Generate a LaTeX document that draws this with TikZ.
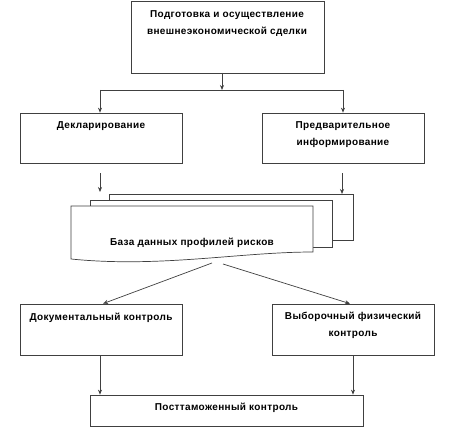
\documentclass[tikz,border=0pt]{standalone}
\usepackage{fontspec}
\setmainfont{Liberation Sans}[LetterSpace=3.5]
\usetikzlibrary{arrows.meta}
\begin{document}
\begin{tikzpicture}[x=1pt,y=-1pt,
 box/.style={draw=black!75, line width=0.7pt, fill=white, rectangle, inner sep=0pt},
 lbl/.style={font=\bfseries\fontsize{10}{17}\selectfont, align=center, inner sep=0pt},
 arr/.style={draw=black!75, line width=0.7pt, -{Stealth[length=5pt,width=4pt]}},
 ln/.style={draw=black!75, line width=0.7pt}]
\useasboundingbox[fill=white] (0,0) rectangle (474,436);

% boxes
\node[box, minimum width=193pt, minimum height=72pt] (top) at (227.5,37) {};
\node[box, minimum width=162pt, minimum height=50pt] (decl) at (101,138) {};
\node[box, minimum width=162pt, minimum height=50pt] (pred) at (343,138) {};
\node[box, minimum width=162pt, minimum height=51pt] (docc) at (101,329.5) {};
\node[box, minimum width=162pt, minimum height=51pt] (vyb) at (353,329.5) {};
\node[box, minimum width=273pt, minimum height=31pt] (post) at (226.5,410.5) {};

% database (stacked documents)
\draw[ln, fill=white] (109,194) rectangle (353,240);
\draw[ln, fill=white] (90,200) rectangle (332,247);
\draw[ln, fill=white] (71,206) -- (313,206) -- (313,252)
  .. controls (240,252) and (160,268) .. (71,259) -- cycle;
\node[lbl] (dbt) at (192,243) {База данных профилей рисков};

% texts
\node[lbl] (topt) at (227,23.5) {Подготовка и осуществление\\внешнеэкономической сделки};
\node[lbl] (declt) at (101,126) {Декларирование};
\node[lbl] (predt) at (343,134.5) {Предварительное\\информирование};
\node[lbl] (doct) at (101,318) {Документальный контроль};
\node[lbl] (vybt) at (353,325) {Выборочный физический\\контроль};
\node[lbl] (postt) at (226.5,408) {Посттаможенный контроль};

% coordinates
\coordinate (t1) at (222,73);
\coordinate (t2) at (222,90);
\coordinate (hl) at (100,90);
\coordinate (hr) at (343,90);
\coordinate (d1) at (100,173);
\coordinate (d2) at (100,192);
\coordinate (p1) at (342,173);
\coordinate (p2) at (342,194);
\coordinate (b1) at (212,263);
\coordinate (b2) at (223,264);

% connectors
\draw[arr] (t1) -- (t2);
\draw[ln] (hl) -- (hr);
\draw[arr] (hl) -- (decl.north -| hl);
\draw[arr] (hr) -- (pred.north -| hr);
\draw[arr] (d1) -- (d2);
\draw[arr] (p1) -- (p2);
\draw[arr] (b1) -- ([xshift=2pt]docc.north);
\draw[arr] (b2) -- ([xshift=-3pt]vyb.north);
\draw[arr] ([xshift=-1pt]docc.south) -- (post.north -| 100,0);
\draw[arr] (vyb.south) -- (post.north -| vyb.south);
\end{tikzpicture}
\end{document}
